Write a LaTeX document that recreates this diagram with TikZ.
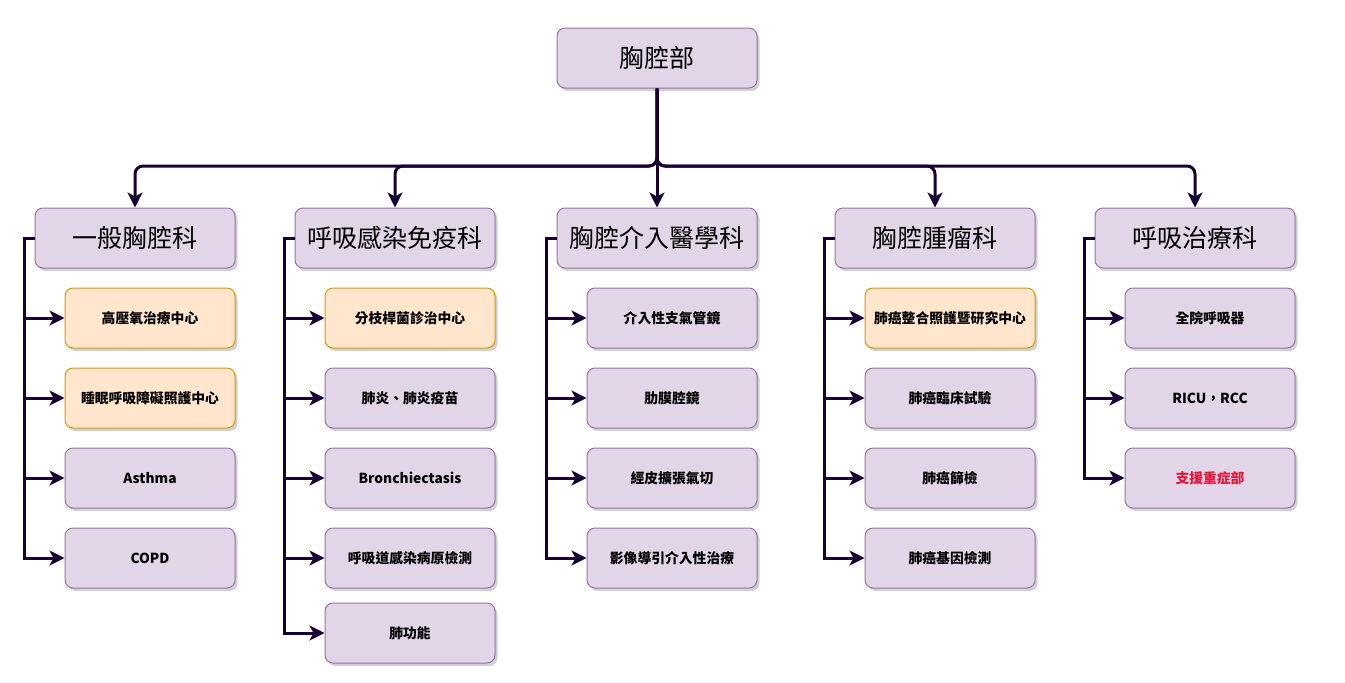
\documentclass[tikz,border=0pt]{standalone}
\usepackage{fontspec}
\setmainfont{Noto Sans CJK TC}
\usetikzlibrary{arrows.meta,shadows,calc}
\definecolor{pfill}{HTML}{E1D5E7}
\definecolor{pline}{HTML}{9673A6}
\definecolor{ofill}{HTML}{FFE6CC}
\definecolor{oline}{HTML}{D79B00}
\definecolor{lc}{HTML}{190033}
\definecolor{redtxt}{HTML}{E3173E}
\tikzset{
  base/.style={rounded corners=8pt, line width=1pt, inner sep=0pt, align=center,
    drop shadow={shadow xshift=2.5pt, shadow yshift=-3pt, fill=black, opacity=0.18}},
  topbox/.style={base, fill=pfill, draw=pline, minimum width=200pt, minimum height=60pt, font=\fontsize{25}{28}\selectfont},
  childp/.style={base, fill=pfill, draw=pline, minimum width=170pt, minimum height=60pt, font=\fontsize{13.8}{16}\selectfont\bfseries},
  childo/.style={base, fill=ofill, draw=oline, minimum width=170pt, minimum height=60pt, font=\fontsize{13.8}{16}\selectfont\bfseries},
  conn/.style={draw=lc, line width=3pt, -{Stealth[length=15pt,width=15pt,inset=4pt]}},
  busconn/.style={conn, rounded corners=8pt},
}
\begin{document}
\begin{tikzpicture}[x=1pt,y=-1pt]
\useasboundingbox (0,0) rectangle (1345,683);
\coordinate (bus) at (0,166);
\node[topbox] (root) at (657,58) {胸腔部};
\node[topbox] (a) at (135,238) {一般胸腔科};
\node[topbox] (b) at (395,238) {呼吸感染免疫科};
\node[topbox] (c) at (657,238) {胸腔介入醫學科};
\node[topbox] (d) at (935,238) {胸腔腫瘤科};
\node[topbox] (e) at (1195,238) {呼吸治療科};
% column a
\node[childo] (a1) at (150,318) {高壓氧治療中心};
\node[childo] (a2) at (150,398) {睡眠呼吸障礙照護中心};
\node[childp] (a3) at (150,478) {Asthma};
\node[childp] (a4) at (150,558) {COPD};
% column b
\node[childo] (b1) at (410,318) {分枝桿菌診治中心};
\node[childp] (b2) at (410,398) {肺炎、肺炎疫苗};
\node[childp] (b3) at (410,478) {Bronchiectasis};
\node[childp] (b4) at (410,558) {呼吸道感染病原檢測};
\node[childp] (b5) at (410,633) {肺功能};
% column c
\node[childp] (c1) at (672,318) {介入性支氣管鏡};
\node[childp] (c2) at (672,398) {肋膜腔鏡};
\node[childp] (c3) at (672,478) {經皮擴張氣切};
\node[childp] (c4) at (672,558) {影像導引介入性治療};
% column d
\node[childo] (d1) at (950,318) {肺癌整合照護暨研究中心};
\node[childp] (d2) at (950,398) {肺癌臨床試驗};
\node[childp] (d3) at (950,478) {肺癌篩檢};
\node[childp] (d4) at (950,558) {肺癌基因檢測};
% column e
\node[childp] (e1) at (1210,318) {全院呼吸器};
\node[childp] (e2) at (1210,398) {RICU，RCC};
\node[childp, text=redtxt] (e3) at (1210,478) {支援重症部};
% top connectors
\foreach \n in {a,b,d,e}{
  \draw[busconn] (root.south) |- (\n.north |- bus) -- (\n.north);
}
\draw[conn] (root.south) -- (c.north);
% side connectors
\foreach \p/\list in {a/{a1,a2,a3,a4}, b/{b1,b2,b3,b4,b5}, c/{c1,c2,c3,c4}, d/{d1,d2,d3,d4}, e/{e1,e2,e3}}{
  \foreach \k in \list {
    \draw[conn] (\p.west) -- ++(-10,0) |- (\k.west);
  }
}
\end{tikzpicture}
\end{document}
